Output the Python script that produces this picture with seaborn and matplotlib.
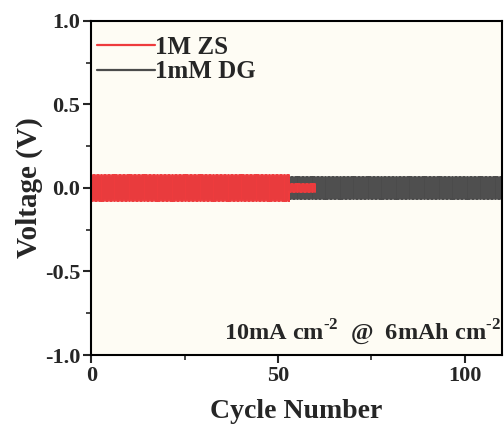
"""Symmetric cell cycling: 1M ZS vs 1mM DG at 10 mA cm-2 / 6 mAh cm-2."""
import matplotlib
matplotlib.use("Agg")
import matplotlib.pyplot as plt
from matplotlib.lines import Line2D
from matplotlib.ticker import MultipleLocator, FormatStrFormatter
import pandas as pd
import seaborn as sns

# ---- data: (start cycle, end cycle, overpotential V) ----
zs_start = [0, 5, 20, 40, 53]
zs_end = [5, 20, 40, 53, 60]
zs_overpot = [0.080, 0.079, 0.078, 0.076, 0.025]

dg_start = [0, 50]
dg_end = [50, 110]
dg_overpot = [0.064, 0.065]

SERIES = ["1M ZS", "1mM DG"]
COLORS = {"1M ZS": "#ee3b3d", "1mM DG": "#4b4b4b"}


def square_wave(starts, ends, overpots, label):
    # plating (-) then stripping (+) each cycle
    rows = []
    for s, e, v in zip(starts, ends, overpots):
        for c in range(s, e):
            rows += [(c, -v), (c + 0.5, -v), (c + 0.5, v), (c + 1, v), (c + 1, -v)]
    df = pd.DataFrame(rows, columns=["cycle", "voltage"])
    df["electrolyte"] = label
    return df


zs = square_wave(zs_start, zs_end, zs_overpot, SERIES[0])
dg = square_wave(dg_start, dg_end, dg_overpot, SERIES[1])

sns.set_theme(style="ticks")
plt.rcParams["font.family"] = ["Liberation Serif", "DejaVu Serif"]
plt.rcParams["font.weight"] = "bold"
plt.rcParams["axes.unicode_minus"] = False
plt.rcParams["mathtext.fontset"] = "custom"
plt.rcParams["mathtext.rm"] = "Liberation Serif:bold"
plt.rcParams["mathtext.bf"] = "Liberation Serif:bold"

fig = plt.figure(figsize=(5.04, 4.33), dpi=100)
ax = fig.add_axes([0.181, 0.180, 0.815, 0.772])
ax.set_facecolor("#fefcf4")

sns.lineplot(data=dg, x="cycle", y="voltage", color=COLORS["1mM DG"], sort=False,
             estimator=None, linewidth=1.4, ax=ax, legend=False)
sns.lineplot(data=zs, x="cycle", y="voltage", color=COLORS["1M ZS"], sort=False,
             estimator=None, linewidth=1.4, ax=ax, legend=False)

ax.set_xlim(0, 110)
ax.set_ylim(-1.0, 1.0)
ax.xaxis.set_major_locator(MultipleLocator(50))
ax.xaxis.set_minor_locator(MultipleLocator(25))
ax.yaxis.set_major_locator(MultipleLocator(0.5))
ax.yaxis.set_minor_locator(MultipleLocator(0.25))
ax.yaxis.set_major_formatter(FormatStrFormatter("%.1f"))
ax.tick_params(which="major", direction="out", length=6, width=1.5, labelsize=16, pad=2)
ax.tick_params(which="minor", direction="out", length=3.5, width=1.2)
for lab in ax.get_xticklabels() + ax.get_yticklabels():
    lab.set_fontweight("bold")
for sp in ax.spines.values():
    sp.set_visible(True)
    sp.set_linewidth(1.5)
    sp.set_color("black")

ax.set_xlabel("Cycle Number", fontsize=20, fontweight="bold", labelpad=9)
ax.set_ylabel("Voltage (V)", fontsize=21, fontweight="bold", labelpad=1)

handles = [Line2D([], [], color=COLORS[s], linewidth=1.6) for s in SERIES]
ax.legend(handles, SERIES, loc="upper left", bbox_to_anchor=(0.0, 0.973), frameon=False,
          handlelength=2.3, handletextpad=0.0, borderaxespad=0.05, borderpad=0.2,
          labelspacing=0.05, prop={"family": "Liberation Serif", "weight": "bold", "size": 18})

ax.text(0.998, 0.025, r"10mA cm$^{\text{-2}}$  @  6mAh cm$^{\text{-2}}$",
        transform=ax.transAxes, ha="right", va="bottom", fontsize=17.5, fontweight="bold")

fig.savefig("out.png", dpi=100, facecolor="white")
